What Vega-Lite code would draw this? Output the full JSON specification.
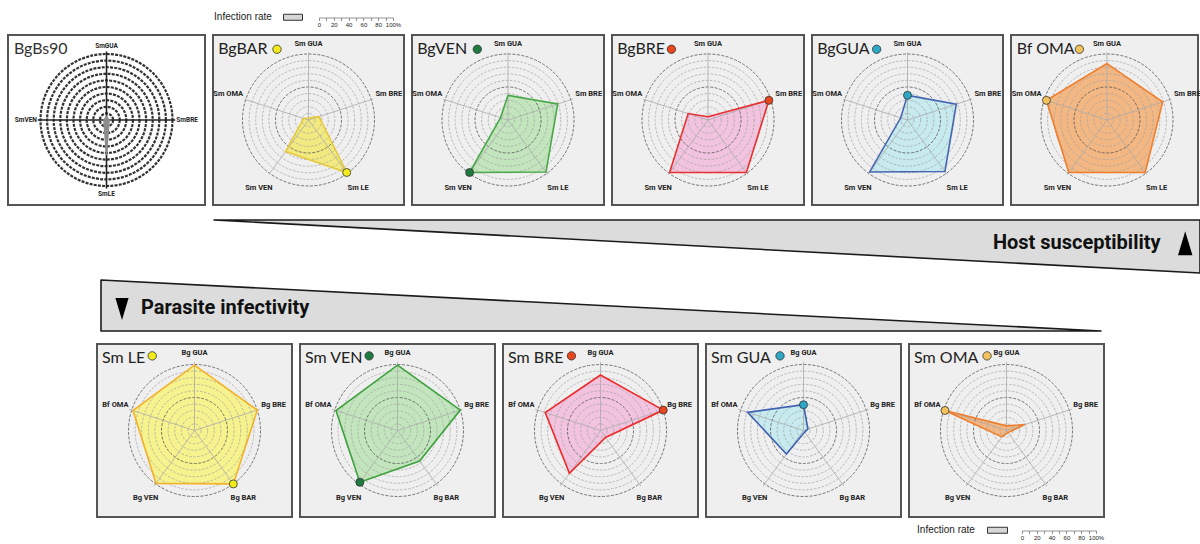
{
"$schema":"https://vega.github.io/schema/vega-lite/v6.json",
"padding":0,
"background":"white",
"config":{"view":{"stroke":null},"font":"Liberation Sans"},
"datasets":{
"rings":[{"r":10},{"r":20},{"r":30},{"r":40},{"r":50},{"r":60},{"r":70},{"r":80},{"r":90},{"r":100}],
"bs90":[{"axis":"SmGUA","k":0,"v":5},{"axis":"SmBRE","k":1,"v":4},{"axis":"SmLE","k":2,"v":53},{"axis":"SmVEN","k":3,"v":4}],
"top":[
{"panel":"BgBAR","axis":"Sm GUA","k":0,"v":3},{"panel":"BgBAR","axis":"Sm BRE","k":1,"v":17},{"panel":"BgBAR","axis":"Sm LE","k":2,"v":100},{"panel":"BgBAR","axis":"Sm VEN","k":3,"v":60},{"panel":"BgBAR","axis":"Sm OMA","k":4,"v":8},
{"panel":"BgVEN","axis":"Sm GUA","k":0,"v":38},{"panel":"BgVEN","axis":"Sm BRE","k":1,"v":80},{"panel":"BgVEN","axis":"Sm LE","k":2,"v":99},{"panel":"BgVEN","axis":"Sm VEN","k":3,"v":100},{"panel":"BgVEN","axis":"Sm OMA","k":4,"v":12},
{"panel":"BgBRE","axis":"Sm GUA","k":0,"v":5},{"panel":"BgBRE","axis":"Sm BRE","k":1,"v":98},{"panel":"BgBRE","axis":"Sm LE","k":2,"v":100},{"panel":"BgBRE","axis":"Sm VEN","k":3,"v":100},{"panel":"BgBRE","axis":"Sm OMA","k":4,"v":32},
{"panel":"BgGUA","axis":"Sm GUA","k":0,"v":38},{"panel":"BgGUA","axis":"Sm BRE","k":1,"v":79},{"panel":"BgGUA","axis":"Sm LE","k":2,"v":98},{"panel":"BgGUA","axis":"Sm VEN","k":3,"v":99},{"panel":"BgGUA","axis":"Sm OMA","k":4,"v":11},
{"panel":"Bf OMA","axis":"Sm GUA","k":0,"v":87},{"panel":"Bf OMA","axis":"Sm BRE","k":1,"v":90},{"panel":"Bf OMA","axis":"Sm LE","k":2,"v":100},{"panel":"Bf OMA","axis":"Sm VEN","k":3,"v":100},{"panel":"Bf OMA","axis":"Sm OMA","k":4,"v":98}
],
"bottom":[
{"panel":"Sm LE","axis":"Bg GUA","k":0,"v":99},{"panel":"Sm LE","axis":"Bg BRE","k":1,"v":100},{"panel":"Sm LE","axis":"Bg BAR","k":2,"v":100},{"panel":"Sm LE","axis":"Bg VEN","k":3,"v":99},{"panel":"Sm LE","axis":"Bf OMA","k":4,"v":98},
{"panel":"Sm VEN","axis":"Bg GUA","k":0,"v":99},{"panel":"Sm VEN","axis":"Bg BRE","k":1,"v":100},{"panel":"Sm VEN","axis":"Bg BAR","k":2,"v":57},{"panel":"Sm VEN","axis":"Bg VEN","k":3,"v":97},{"panel":"Sm VEN","axis":"Bf OMA","k":4,"v":98},
{"panel":"Sm BRE","axis":"Bg GUA","k":0,"v":84},{"panel":"Sm BRE","axis":"Bg BRE","k":1,"v":100},{"panel":"Sm BRE","axis":"Bg BAR","k":2,"v":13},{"panel":"Sm BRE","axis":"Bg VEN","k":3,"v":80},{"panel":"Sm BRE","axis":"Bf OMA","k":4,"v":88},
{"panel":"Sm GUA","axis":"Bg GUA","k":0,"v":39},{"panel":"Sm GUA","axis":"Bg BRE","k":1,"v":7},{"panel":"Sm GUA","axis":"Bg BAR","k":2,"v":3},{"panel":"Sm GUA","axis":"Bg VEN","k":3,"v":44},{"panel":"Sm GUA","axis":"Bf OMA","k":4,"v":89},
{"panel":"Sm OMA","axis":"Bg GUA","k":0,"v":7},{"panel":"Sm OMA","axis":"Bg BRE","k":1,"v":29},{"panel":"Sm OMA","axis":"Bg BAR","k":2,"v":4},{"panel":"Sm OMA","axis":"Bg VEN","k":3,"v":12},{"panel":"Sm OMA","axis":"Bf OMA","k":4,"v":98}
]
},
"spacing":0,
"vconcat":[
{"hconcat":[
 {"width":213,"height":34,"data":{"values":[]},"mark":"point"},
 {"width":60,"height":12,"data":{"values":[{}]},"mark":{"type":"text","text":"Infection rate","fontSize":10,"font":"Liberation Sans","fill":"#222222"}},
 {"width":9,"height":1,"data":{"values":[]},"mark":"point"},
 {"width":19,"height":6,"view":{"fill":"#d6d6d6","stroke":"#333333","strokeWidth":1},"data":{"values":[]},"mark":"point"},
 {"width":14,"height":1,"data":{"values":[]},"mark":"point"},
 {"width":74,"height":11,"data":{"values":[]},"mark":"point","encoding":{"x":{"field":"v","type":"quantitative","scale":{"domain":[0,100],"nice":false},"axis":{"values":[0,10,20,30,40,50,60,70,80,90,100],"labelExpr":"datum.value == 100 ? '100%' : (datum.value % 20 == 0 ? datum.label : '')","tickSize":3,"tickColor":"#666666","tickWidth":0.7,"domainColor":"#666666","domainWidth":0.7,"labelFontSize":6,"labelFont":"Liberation Sans","labelColor":"#222222","labelPadding":1,"labelFlush":false,"labelOverlap":false,"title":null,"grid":false}}}}
],"spacing":0,"center":true},
{"hconcat":[
 {"width":7,"height":1,"data":{"values":[]},"mark":"point"},
 {"hconcat":[
  {"width":197,"height":170,"view":{"fill":"#ffffff","stroke":"#555555","strokeWidth":2},
   "layer":[
    {"data":{"name":"rings"},"mark":{"type":"point","filled":false,"stroke":"#333333","strokeWidth":2.2,"strokeDash":[3,1.2],"opacity":1},"encoding":{"x":{"datum":0,"type":"quantitative","scale":{"domain":[-149,149],"nice":false,"zero":false},"axis":null},"y":{"datum":0,"type":"quantitative","scale":{"domain":[-129,129],"nice":false,"zero":false},"axis":null},"size":{"field":"r","type":"quantitative","scale":{"type":"pow","exponent":2,"domain":[0,100],"range":[0,17424]},"legend":null}}},
    {"data":{"name":"bs90"},
     "transform":[{"calculate":"datum.k*PI/2","as":"a"},{"calculate":"datum.v*sin(datum.a)","as":"px"},{"calculate":"datum.v*cos(datum.a)","as":"py"},{"calculate":"104*sin(datum.a)","as":"ax"},{"calculate":"104*cos(datum.a)","as":"ay"},{"calculate":"(datum.k%2==0?113:122)*sin(datum.a)","as":"lx"},{"calculate":"(datum.k%2==0?113:122)*cos(datum.a)","as":"ly"}],
     "encoding":{"x":{"field":"px","type":"quantitative","scale":{"domain":[-149,149],"nice":false,"zero":false},"axis":null},"y":{"field":"py","type":"quantitative","scale":{"domain":[-129,129],"nice":false,"zero":false},"axis":null}},
     "layer":[
      {"mark":{"type":"rule","stroke":"#222222","strokeWidth":1.6},"encoding":{"x":{"datum":0},"y":{"datum":0},"x2":{"field":"ax"},"y2":{"field":"ay"}}},
      {"mark":{"type":"line","interpolate":"linear-closed","fill":"#8c8c8c","stroke":"#8c8c8c","strokeWidth":1.5},"encoding":{"order":{"field":"k"}}},
      {"mark":{"type":"text","font":"Roboto","fontSize":6.5,"fontWeight":"bold","fill":"#222222"},"encoding":{"x":{"field":"lx","type":"quantitative"},"y":{"field":"ly","type":"quantitative"},"text":{"field":"axis"}}},
      {"transform":[{"filter":"datum.k == 0"}],"mark":{"type":"text","text":"BgBs90","align":"left","baseline":"alphabetic","font":"Lato","fontSize":16,"fill":"#333333"},"encoding":{"x":{"datum":-140},"y":{"datum":100}}}
     ]}
   ]},
  {"width":191,"height":170,"view":{"fill":"#efefef","stroke":"#555555","strokeWidth":2},
   "layer":[
    {"data":{"name":"top"},"transform":[{"filter":"datum.panel == 'BgBAR'"},{"calculate":"datum.k*2*PI/5","as":"a"},{"calculate":"datum.v*sin(datum.a)","as":"px"},{"calculate":"datum.v*cos(datum.a)","as":"py"}],
     "mark":{"type":"line","interpolate":"linear-closed","fill":"#f2ea80","strokeWidth":0},
     "encoding":{"x":{"field":"px","type":"quantitative","scale":{"domain":[-147,147],"nice":false,"zero":false},"axis":null},"y":{"field":"py","type":"quantitative","scale":{"domain":[-131,131],"nice":false,"zero":false},"axis":null},"order":{"field":"k"}}},
    {"data":{"name":"rings"},"transform":[{"filter":"datum.r % 50 != 0"}],"mark":{"type":"point","filled":false,"stroke":"#a0a0a0","strokeWidth":0.7,"strokeDash":[2.5,1.5],"opacity":1},"encoding":{"x":{"datum":0,"type":"quantitative"},"y":{"datum":0,"type":"quantitative"},"size":{"field":"r","type":"quantitative","scale":{"type":"pow","exponent":2,"domain":[0,100],"range":[0,16900]},"legend":null}}},
    {"data":{"name":"rings"},"transform":[{"filter":"datum.r % 50 == 0"}],"mark":{"type":"point","filled":false,"stroke":"#555555","strokeWidth":0.8,"strokeDash":[3,1.5],"opacity":1},"encoding":{"x":{"datum":0,"type":"quantitative"},"y":{"datum":0,"type":"quantitative"},"size":{"field":"r","type":"quantitative","scale":{"type":"pow","exponent":2,"domain":[0,100],"range":[0,16900]},"legend":null}}},
    {"data":{"name":"top"},"transform":[{"filter":"datum.panel == 'BgBAR'"},{"calculate":"datum.k*2*PI/5","as":"a"},{"calculate":"datum.v*sin(datum.a)","as":"px"},{"calculate":"datum.v*cos(datum.a)","as":"py"},{"calculate":"104*sin(datum.a)","as":"ax"},{"calculate":"104*cos(datum.a)","as":"ay"},{"calculate":"(datum.k==0?117:130)*sin(datum.a)","as":"lx"},{"calculate":"(datum.k==0?117:130)*cos(datum.a)","as":"ly"}],
     "encoding":{"x":{"field":"px","type":"quantitative"},"y":{"field":"py","type":"quantitative"}},
     "layer":[
      {"mark":{"type":"rule","stroke":"#aaaaaa","strokeWidth":0.8},"encoding":{"x":{"datum":0},"y":{"datum":0},"x2":{"field":"ax"},"y2":{"field":"ay"}}},
      {"mark":{"type":"line","interpolate":"linear-closed","stroke":"#e6c83c","strokeWidth":1.6},"encoding":{"order":{"field":"k"}}},
      {"transform":[{"filter":"datum.k == 2"}],"mark":{"type":"point","filled":true,"fill":"#f3ea1c","stroke":"#333333","strokeWidth":0.8,"size":64,"opacity":1}},
      {"mark":{"type":"text","font":"Roboto","fontSize":7.5,"fontWeight":"bold","fill":"#222222"},"encoding":{"x":{"field":"lx","type":"quantitative"},"y":{"field":"ly","type":"quantitative"},"text":{"field":"axis"}}},
      {"transform":[{"filter":"datum.k == 0"}],"mark":{"type":"text","text":"BgBAR","align":"left","baseline":"alphabetic","font":"Lato","fontSize":16,"fill":"#222222"},"encoding":{"x":{"datum":-139},"y":{"datum":101}}},
      {"transform":[{"filter":"datum.k == 0"}],"mark":{"type":"point","filled":true,"fill":"#f3ea1c","stroke":"#333333","strokeWidth":0.8,"size":70,"opacity":1},"encoding":{"x":{"datum":-48.5},"y":{"datum":109}}}
     ]}
   ]},
  {"width":192,"height":170,"view":{"fill":"#efefef","stroke":"#555555","strokeWidth":2},
   "layer":[
    {"data":{"name":"top"},"transform":[{"filter":"datum.panel == 'BgVEN'"},{"calculate":"datum.k*2*PI/5","as":"a"},{"calculate":"datum.v*sin(datum.a)","as":"px"},{"calculate":"datum.v*cos(datum.a)","as":"py"}],
     "mark":{"type":"line","interpolate":"linear-closed","fill":"#c3e5bd","strokeWidth":0},
     "encoding":{"x":{"field":"px","type":"quantitative","scale":{"domain":[-147,147],"nice":false,"zero":false},"axis":null},"y":{"field":"py","type":"quantitative","scale":{"domain":[-131,131],"nice":false,"zero":false},"axis":null},"order":{"field":"k"}}},
    {"data":{"name":"rings"},"transform":[{"filter":"datum.r % 50 != 0"}],"mark":{"type":"point","filled":false,"stroke":"#a0a0a0","strokeWidth":0.7,"strokeDash":[2.5,1.5],"opacity":1},"encoding":{"x":{"datum":0,"type":"quantitative"},"y":{"datum":0,"type":"quantitative"},"size":{"field":"r","type":"quantitative","scale":{"type":"pow","exponent":2,"domain":[0,100],"range":[0,16900]},"legend":null}}},
    {"data":{"name":"rings"},"transform":[{"filter":"datum.r % 50 == 0"}],"mark":{"type":"point","filled":false,"stroke":"#555555","strokeWidth":0.8,"strokeDash":[3,1.5],"opacity":1},"encoding":{"x":{"datum":0,"type":"quantitative"},"y":{"datum":0,"type":"quantitative"},"size":{"field":"r","type":"quantitative","scale":{"type":"pow","exponent":2,"domain":[0,100],"range":[0,16900]},"legend":null}}},
    {"data":{"name":"top"},"transform":[{"filter":"datum.panel == 'BgVEN'"},{"calculate":"datum.k*2*PI/5","as":"a"},{"calculate":"datum.v*sin(datum.a)","as":"px"},{"calculate":"datum.v*cos(datum.a)","as":"py"},{"calculate":"104*sin(datum.a)","as":"ax"},{"calculate":"104*cos(datum.a)","as":"ay"},{"calculate":"(datum.k==0?117:130)*sin(datum.a)","as":"lx"},{"calculate":"(datum.k==0?117:130)*cos(datum.a)","as":"ly"}],
     "encoding":{"x":{"field":"px","type":"quantitative"},"y":{"field":"py","type":"quantitative"}},
     "layer":[
      {"mark":{"type":"rule","stroke":"#aaaaaa","strokeWidth":0.8},"encoding":{"x":{"datum":0},"y":{"datum":0},"x2":{"field":"ax"},"y2":{"field":"ay"}}},
      {"mark":{"type":"line","interpolate":"linear-closed","stroke":"#4ba84a","strokeWidth":1.6},"encoding":{"order":{"field":"k"}}},
      {"transform":[{"filter":"datum.k == 3"}],"mark":{"type":"point","filled":true,"fill":"#1e7b40","stroke":"#333333","strokeWidth":0.8,"size":64,"opacity":1}},
      {"mark":{"type":"text","font":"Roboto","fontSize":7.5,"fontWeight":"bold","fill":"#222222"},"encoding":{"x":{"field":"lx","type":"quantitative"},"y":{"field":"ly","type":"quantitative"},"text":{"field":"axis"}}},
      {"transform":[{"filter":"datum.k == 0"}],"mark":{"type":"text","text":"BgVEN","align":"left","baseline":"alphabetic","font":"Lato","fontSize":16,"fill":"#222222"},"encoding":{"x":{"datum":-139},"y":{"datum":101}}},
      {"transform":[{"filter":"datum.k == 0"}],"mark":{"type":"point","filled":true,"fill":"#1e7b40","stroke":"#333333","strokeWidth":0.8,"size":70,"opacity":1},"encoding":{"x":{"datum":-47},"y":{"datum":109}}}
     ]}
   ]},
  {"width":192,"height":170,"view":{"fill":"#efefef","stroke":"#555555","strokeWidth":2},
   "layer":[
    {"data":{"name":"top"},"transform":[{"filter":"datum.panel == 'BgBRE'"},{"calculate":"datum.k*2*PI/5","as":"a"},{"calculate":"datum.v*sin(datum.a)","as":"px"},{"calculate":"datum.v*cos(datum.a)","as":"py"}],
     "mark":{"type":"line","interpolate":"linear-closed","fill":"#f2c3de","strokeWidth":0},
     "encoding":{"x":{"field":"px","type":"quantitative","scale":{"domain":[-147,147],"nice":false,"zero":false},"axis":null},"y":{"field":"py","type":"quantitative","scale":{"domain":[-131,131],"nice":false,"zero":false},"axis":null},"order":{"field":"k"}}},
    {"data":{"name":"rings"},"transform":[{"filter":"datum.r % 50 != 0"}],"mark":{"type":"point","filled":false,"stroke":"#a0a0a0","strokeWidth":0.7,"strokeDash":[2.5,1.5],"opacity":1},"encoding":{"x":{"datum":0,"type":"quantitative"},"y":{"datum":0,"type":"quantitative"},"size":{"field":"r","type":"quantitative","scale":{"type":"pow","exponent":2,"domain":[0,100],"range":[0,16900]},"legend":null}}},
    {"data":{"name":"rings"},"transform":[{"filter":"datum.r % 50 == 0"}],"mark":{"type":"point","filled":false,"stroke":"#555555","strokeWidth":0.8,"strokeDash":[3,1.5],"opacity":1},"encoding":{"x":{"datum":0,"type":"quantitative"},"y":{"datum":0,"type":"quantitative"},"size":{"field":"r","type":"quantitative","scale":{"type":"pow","exponent":2,"domain":[0,100],"range":[0,16900]},"legend":null}}},
    {"data":{"name":"top"},"transform":[{"filter":"datum.panel == 'BgBRE'"},{"calculate":"datum.k*2*PI/5","as":"a"},{"calculate":"datum.v*sin(datum.a)","as":"px"},{"calculate":"datum.v*cos(datum.a)","as":"py"},{"calculate":"104*sin(datum.a)","as":"ax"},{"calculate":"104*cos(datum.a)","as":"ay"},{"calculate":"(datum.k==0?117:130)*sin(datum.a)","as":"lx"},{"calculate":"(datum.k==0?117:130)*cos(datum.a)","as":"ly"}],
     "encoding":{"x":{"field":"px","type":"quantitative"},"y":{"field":"py","type":"quantitative"}},
     "layer":[
      {"mark":{"type":"rule","stroke":"#aaaaaa","strokeWidth":0.8},"encoding":{"x":{"datum":0},"y":{"datum":0},"x2":{"field":"ax"},"y2":{"field":"ay"}}},
      {"mark":{"type":"line","interpolate":"linear-closed","stroke":"#e83030","strokeWidth":1.6},"encoding":{"order":{"field":"k"}}},
      {"transform":[{"filter":"datum.k == 1"}],"mark":{"type":"point","filled":true,"fill":"#e8461e","stroke":"#333333","strokeWidth":0.8,"size":64,"opacity":1}},
      {"mark":{"type":"text","font":"Roboto","fontSize":7.5,"fontWeight":"bold","fill":"#222222"},"encoding":{"x":{"field":"lx","type":"quantitative"},"y":{"field":"ly","type":"quantitative"},"text":{"field":"axis"}}},
      {"transform":[{"filter":"datum.k == 0"}],"mark":{"type":"text","text":"BgBRE","align":"left","baseline":"alphabetic","font":"Lato","fontSize":16,"fill":"#222222"},"encoding":{"x":{"datum":-139},"y":{"datum":101}}},
      {"transform":[{"filter":"datum.k == 0"}],"mark":{"type":"point","filled":true,"fill":"#e8461e","stroke":"#333333","strokeWidth":0.8,"size":70,"opacity":1},"encoding":{"x":{"datum":-56},"y":{"datum":109}}}
     ]}
   ]},
  {"width":191,"height":170,"view":{"fill":"#efefef","stroke":"#555555","strokeWidth":2},
   "layer":[
    {"data":{"name":"top"},"transform":[{"filter":"datum.panel == 'BgGUA'"},{"calculate":"datum.k*2*PI/5","as":"a"},{"calculate":"datum.v*sin(datum.a)","as":"px"},{"calculate":"datum.v*cos(datum.a)","as":"py"}],
     "mark":{"type":"line","interpolate":"linear-closed","fill":"#c6eaee","strokeWidth":0},
     "encoding":{"x":{"field":"px","type":"quantitative","scale":{"domain":[-147,147],"nice":false,"zero":false},"axis":null},"y":{"field":"py","type":"quantitative","scale":{"domain":[-131,131],"nice":false,"zero":false},"axis":null},"order":{"field":"k"}}},
    {"data":{"name":"rings"},"transform":[{"filter":"datum.r % 50 != 0"}],"mark":{"type":"point","filled":false,"stroke":"#a0a0a0","strokeWidth":0.7,"strokeDash":[2.5,1.5],"opacity":1},"encoding":{"x":{"datum":0,"type":"quantitative"},"y":{"datum":0,"type":"quantitative"},"size":{"field":"r","type":"quantitative","scale":{"type":"pow","exponent":2,"domain":[0,100],"range":[0,16900]},"legend":null}}},
    {"data":{"name":"rings"},"transform":[{"filter":"datum.r % 50 == 0"}],"mark":{"type":"point","filled":false,"stroke":"#555555","strokeWidth":0.8,"strokeDash":[3,1.5],"opacity":1},"encoding":{"x":{"datum":0,"type":"quantitative"},"y":{"datum":0,"type":"quantitative"},"size":{"field":"r","type":"quantitative","scale":{"type":"pow","exponent":2,"domain":[0,100],"range":[0,16900]},"legend":null}}},
    {"data":{"name":"top"},"transform":[{"filter":"datum.panel == 'BgGUA'"},{"calculate":"datum.k*2*PI/5","as":"a"},{"calculate":"datum.v*sin(datum.a)","as":"px"},{"calculate":"datum.v*cos(datum.a)","as":"py"},{"calculate":"104*sin(datum.a)","as":"ax"},{"calculate":"104*cos(datum.a)","as":"ay"},{"calculate":"(datum.k==0?117:130)*sin(datum.a)","as":"lx"},{"calculate":"(datum.k==0?117:130)*cos(datum.a)","as":"ly"}],
     "encoding":{"x":{"field":"px","type":"quantitative"},"y":{"field":"py","type":"quantitative"}},
     "layer":[
      {"mark":{"type":"rule","stroke":"#aaaaaa","strokeWidth":0.8},"encoding":{"x":{"datum":0},"y":{"datum":0},"x2":{"field":"ax"},"y2":{"field":"ay"}}},
      {"mark":{"type":"line","interpolate":"linear-closed","stroke":"#4567b2","strokeWidth":1.6},"encoding":{"order":{"field":"k"}}},
      {"transform":[{"filter":"datum.k == 0"}],"mark":{"type":"point","filled":true,"fill":"#2ea7c6","stroke":"#333333","strokeWidth":0.8,"size":64,"opacity":1}},
      {"mark":{"type":"text","font":"Roboto","fontSize":7.5,"fontWeight":"bold","fill":"#222222"},"encoding":{"x":{"field":"lx","type":"quantitative"},"y":{"field":"ly","type":"quantitative"},"text":{"field":"axis"}}},
      {"transform":[{"filter":"datum.k == 0"}],"mark":{"type":"text","text":"BgGUA","align":"left","baseline":"alphabetic","font":"Lato","fontSize":16,"fill":"#222222"},"encoding":{"x":{"datum":-139},"y":{"datum":101}}},
      {"transform":[{"filter":"datum.k == 0"}],"mark":{"type":"point","filled":true,"fill":"#2ea7c6","stroke":"#333333","strokeWidth":0.8,"size":70,"opacity":1},"encoding":{"x":{"datum":-47.5},"y":{"datum":109}}}
     ]}
   ]},
  {"width":187,"height":170,"view":{"fill":"#efefef","stroke":"#555555","strokeWidth":2},
   "layer":[
    {"data":{"name":"top"},"transform":[{"filter":"datum.panel == 'Bf OMA'"},{"calculate":"datum.k*2*PI/5","as":"a"},{"calculate":"datum.v*sin(datum.a)","as":"px"},{"calculate":"datum.v*cos(datum.a)","as":"py"}],
     "mark":{"type":"line","interpolate":"linear-closed","fill":"#f3b783","strokeWidth":0},
     "encoding":{"x":{"field":"px","type":"quantitative","scale":{"domain":[-147.7,140],"nice":false,"zero":false},"axis":null},"y":{"field":"py","type":"quantitative","scale":{"domain":[-131,131],"nice":false,"zero":false},"axis":null},"order":{"field":"k"}}},
    {"data":{"name":"rings"},"transform":[{"filter":"datum.r % 50 != 0"}],"mark":{"type":"point","filled":false,"stroke":"#a0a0a0","strokeWidth":0.7,"strokeDash":[2.5,1.5],"opacity":1},"encoding":{"x":{"datum":0,"type":"quantitative"},"y":{"datum":0,"type":"quantitative"},"size":{"field":"r","type":"quantitative","scale":{"type":"pow","exponent":2,"domain":[0,100],"range":[0,16900]},"legend":null}}},
    {"data":{"name":"rings"},"transform":[{"filter":"datum.r % 50 == 0"}],"mark":{"type":"point","filled":false,"stroke":"#555555","strokeWidth":0.8,"strokeDash":[3,1.5],"opacity":1},"encoding":{"x":{"datum":0,"type":"quantitative"},"y":{"datum":0,"type":"quantitative"},"size":{"field":"r","type":"quantitative","scale":{"type":"pow","exponent":2,"domain":[0,100],"range":[0,16900]},"legend":null}}},
    {"data":{"name":"top"},"transform":[{"filter":"datum.panel == 'Bf OMA'"},{"calculate":"datum.k*2*PI/5","as":"a"},{"calculate":"datum.v*sin(datum.a)","as":"px"},{"calculate":"datum.v*cos(datum.a)","as":"py"},{"calculate":"104*sin(datum.a)","as":"ax"},{"calculate":"104*cos(datum.a)","as":"ay"},{"calculate":"(datum.k==0?117:130)*sin(datum.a)","as":"lx"},{"calculate":"(datum.k==0?117:130)*cos(datum.a)","as":"ly"}],
     "encoding":{"x":{"field":"px","type":"quantitative"},"y":{"field":"py","type":"quantitative"}},
     "layer":[
      {"mark":{"type":"rule","stroke":"#aaaaaa","strokeWidth":0.8},"encoding":{"x":{"datum":0},"y":{"datum":0},"x2":{"field":"ax"},"y2":{"field":"ay"}}},
      {"mark":{"type":"line","interpolate":"linear-closed","stroke":"#ee7f2e","strokeWidth":1.6},"encoding":{"order":{"field":"k"}}},
      {"transform":[{"filter":"datum.k == 4"}],"mark":{"type":"point","filled":true,"fill":"#f2c25e","stroke":"#333333","strokeWidth":0.8,"size":64,"opacity":1}},
      {"mark":{"type":"text","font":"Roboto","fontSize":7.5,"fontWeight":"bold","fill":"#222222"},"encoding":{"x":{"field":"lx","type":"quantitative"},"y":{"field":"ly","type":"quantitative"},"text":{"field":"axis"}}},
      {"transform":[{"filter":"datum.k == 0"}],"mark":{"type":"text","text":"Bf OMA","align":"left","baseline":"alphabetic","font":"Lato","fontSize":16,"fill":"#222222"},"encoding":{"x":{"datum":-139},"y":{"datum":101}}},
      {"transform":[{"filter":"datum.k == 0"}],"mark":{"type":"point","filled":true,"fill":"#f2c25e","stroke":"#333333","strokeWidth":0.8,"size":70,"opacity":1},"encoding":{"x":{"datum":-42.5},"y":{"datum":109}}}
     ]}
   ]}
 ],"spacing":6}
],"spacing":0},
{"width":10,"height":13,"data":{"values":[]},"mark":"point"},
{"hconcat":[
 {"width":213,"height":1,"data":{"values":[]},"mark":"point"},
 {"width":986,"height":53,"data":{"values":[{"s":0},{"s":1}]},
  "layer":[
   {"mark":{"type":"area","fill":"#dcdcdc","stroke":"#1a1a1a","strokeWidth":1.6,"strokeJoin":"round","opacity":1},"encoding":{"x":{"field":"s","type":"quantitative","scale":{"domain":[0,1],"nice":false,"zero":false},"axis":null},"y":{"field":"s","type":"quantitative","scale":{"domain":[0,1],"reverse":true,"nice":false,"zero":false},"axis":null},"y2":{"datum":0}}},
   {"transform":[{"filter":"datum.s == 1"}],"mark":{"type":"text","text":"Host susceptibility","align":"right","baseline":"middle","font":"Roboto","fontWeight":"bold","fontSize":20,"fill":"#111111"},"encoding":{"x":{"datum":0.96},"y":{"datum":0.44}}},
   {"transform":[{"filter":"datum.s == 1"}],"mark":{"type":"point","shape":"M-0.6,1L0,-1L0.6,1Z","filled":true,"fill":"#000000","strokeWidth":0,"size":576,"opacity":1},"encoding":{"x":{"datum":0.985},"y":{"datum":0.44}}}
  ]}
],"spacing":0},
{"width":10,"height":5,"data":{"values":[]},"mark":"point"},
{"hconcat":[
 {"width":100,"height":1,"data":{"values":[]},"mark":"point"},
 {"width":1000,"height":51,"data":{"values":[{"p":0},{"p":1}]},
  "layer":[
   {"mark":{"type":"area","fill":"#dcdcdc","stroke":"#1a1a1a","strokeWidth":1.6,"strokeJoin":"round","opacity":1},"encoding":{"x":{"field":"p","type":"quantitative","scale":{"domain":[0,1],"nice":false,"zero":false},"axis":null},"y":{"field":"p","type":"quantitative","scale":{"domain":[0,1],"reverse":true,"nice":false,"zero":false},"axis":null},"y2":{"datum":1}}},
   {"transform":[{"filter":"datum.p == 0"}],"mark":{"type":"text","text":"Parasite infectivity","align":"left","baseline":"middle","font":"Roboto","fontWeight":"bold","fontSize":20,"fill":"#111111"},"encoding":{"x":{"datum":0.04},"y":{"datum":0.55}}},
   {"transform":[{"filter":"datum.p == 0"}],"mark":{"type":"point","shape":"M-0.6,-1L0.6,-1L0,1Z","filled":true,"fill":"#000000","strokeWidth":0,"size":484,"opacity":1},"encoding":{"x":{"datum":0.021},"y":{"datum":0.57}}}
  ]}
],"spacing":0},
{"width":10,"height":11,"data":{"values":[]},"mark":"point"},
{"hconcat":[
 {"width":96,"height":1,"data":{"values":[]},"mark":"point"},
 {"hconcat":[
  {"width":195,"height":173,"view":{"fill":"#efefef","stroke":"#555555","strokeWidth":2},
   "layer":[
    {"data":{"name":"bottom"},"transform":[{"filter":"datum.panel == 'Sm LE'"},{"calculate":"datum.k*2*PI/5","as":"a"},{"calculate":"datum.v*sin(datum.a)","as":"px"},{"calculate":"datum.v*cos(datum.a)","as":"py"}],
     "mark":{"type":"line","interpolate":"linear-closed","fill":"#f6f38e","strokeWidth":0},
     "encoding":{"x":{"field":"px","type":"quantitative","scale":{"domain":[-147.7,147.7],"nice":false,"zero":false},"axis":null},"y":{"field":"py","type":"quantitative","scale":{"domain":[-131,131],"nice":false,"zero":false},"axis":null},"order":{"field":"k"}}},
    {"data":{"name":"rings"},"transform":[{"filter":"datum.r % 50 != 0"}],"mark":{"type":"point","filled":false,"stroke":"#a0a0a0","strokeWidth":0.7,"strokeDash":[2.5,1.5],"opacity":1},"encoding":{"x":{"datum":0,"type":"quantitative"},"y":{"datum":0,"type":"quantitative"},"size":{"field":"r","type":"quantitative","scale":{"type":"pow","exponent":2,"domain":[0,100],"range":[0,17424]},"legend":null}}},
    {"data":{"name":"rings"},"transform":[{"filter":"datum.r % 50 == 0"}],"mark":{"type":"point","filled":false,"stroke":"#555555","strokeWidth":0.8,"strokeDash":[3,1.5],"opacity":1},"encoding":{"x":{"datum":0,"type":"quantitative"},"y":{"datum":0,"type":"quantitative"},"size":{"field":"r","type":"quantitative","scale":{"type":"pow","exponent":2,"domain":[0,100],"range":[0,17424]},"legend":null}}},
    {"data":{"name":"bottom"},"transform":[{"filter":"datum.panel == 'Sm LE'"},{"calculate":"datum.k*2*PI/5","as":"a"},{"calculate":"datum.v*sin(datum.a)","as":"px"},{"calculate":"datum.v*cos(datum.a)","as":"py"},{"calculate":"104*sin(datum.a)","as":"ax"},{"calculate":"104*cos(datum.a)","as":"ay"},{"calculate":"(datum.k==0?118:126)*sin(datum.a)","as":"lx"},{"calculate":"(datum.k==0?118:126)*cos(datum.a)","as":"ly"}],
     "encoding":{"x":{"field":"px","type":"quantitative"},"y":{"field":"py","type":"quantitative"}},
     "layer":[
      {"mark":{"type":"rule","stroke":"#aaaaaa","strokeWidth":0.8},"encoding":{"x":{"datum":0},"y":{"datum":0},"x2":{"field":"ax"},"y2":{"field":"ay"}}},
      {"mark":{"type":"line","interpolate":"linear-closed","stroke":"#f3b227","strokeWidth":1.6},"encoding":{"order":{"field":"k"}}},
      {"transform":[{"filter":"datum.k == 2"}],"mark":{"type":"point","filled":true,"fill":"#f3ea1c","stroke":"#333333","strokeWidth":0.8,"size":64,"opacity":1}},
      {"mark":{"type":"text","font":"Roboto","fontSize":7.5,"fontWeight":"bold","fill":"#222222"},"encoding":{"x":{"field":"lx","type":"quantitative"},"y":{"field":"ly","type":"quantitative"},"text":{"field":"axis"}}},
      {"transform":[{"filter":"datum.k == 0"}],"mark":{"type":"text","text":"Sm LE","align":"left","baseline":"alphabetic","font":"Lato","fontSize":16,"fill":"#222222"},"encoding":{"x":{"datum":-140},"y":{"datum":102}}},
      {"transform":[{"filter":"datum.k == 0"}],"mark":{"type":"point","filled":true,"fill":"#f3ea1c","stroke":"#333333","strokeWidth":0.8,"size":70,"opacity":1},"encoding":{"x":{"datum":-64},"y":{"datum":113}}}
     ]}
   ]},
  {"width":195,"height":173,"view":{"fill":"#efefef","stroke":"#555555","strokeWidth":2},
   "layer":[
    {"data":{"name":"bottom"},"transform":[{"filter":"datum.panel == 'Sm VEN'"},{"calculate":"datum.k*2*PI/5","as":"a"},{"calculate":"datum.v*sin(datum.a)","as":"px"},{"calculate":"datum.v*cos(datum.a)","as":"py"}],
     "mark":{"type":"line","interpolate":"linear-closed","fill":"#c3e5bd","strokeWidth":0},
     "encoding":{"x":{"field":"px","type":"quantitative","scale":{"domain":[-147.7,147.7],"nice":false,"zero":false},"axis":null},"y":{"field":"py","type":"quantitative","scale":{"domain":[-131,131],"nice":false,"zero":false},"axis":null},"order":{"field":"k"}}},
    {"data":{"name":"rings"},"transform":[{"filter":"datum.r % 50 != 0"}],"mark":{"type":"point","filled":false,"stroke":"#a0a0a0","strokeWidth":0.7,"strokeDash":[2.5,1.5],"opacity":1},"encoding":{"x":{"datum":0,"type":"quantitative"},"y":{"datum":0,"type":"quantitative"},"size":{"field":"r","type":"quantitative","scale":{"type":"pow","exponent":2,"domain":[0,100],"range":[0,17424]},"legend":null}}},
    {"data":{"name":"rings"},"transform":[{"filter":"datum.r % 50 == 0"}],"mark":{"type":"point","filled":false,"stroke":"#555555","strokeWidth":0.8,"strokeDash":[3,1.5],"opacity":1},"encoding":{"x":{"datum":0,"type":"quantitative"},"y":{"datum":0,"type":"quantitative"},"size":{"field":"r","type":"quantitative","scale":{"type":"pow","exponent":2,"domain":[0,100],"range":[0,17424]},"legend":null}}},
    {"data":{"name":"bottom"},"transform":[{"filter":"datum.panel == 'Sm VEN'"},{"calculate":"datum.k*2*PI/5","as":"a"},{"calculate":"datum.v*sin(datum.a)","as":"px"},{"calculate":"datum.v*cos(datum.a)","as":"py"},{"calculate":"104*sin(datum.a)","as":"ax"},{"calculate":"104*cos(datum.a)","as":"ay"},{"calculate":"(datum.k==0?118:126)*sin(datum.a)","as":"lx"},{"calculate":"(datum.k==0?118:126)*cos(datum.a)","as":"ly"}],
     "encoding":{"x":{"field":"px","type":"quantitative"},"y":{"field":"py","type":"quantitative"}},
     "layer":[
      {"mark":{"type":"rule","stroke":"#aaaaaa","strokeWidth":0.8},"encoding":{"x":{"datum":0},"y":{"datum":0},"x2":{"field":"ax"},"y2":{"field":"ay"}}},
      {"mark":{"type":"line","interpolate":"linear-closed","stroke":"#3ea23e","strokeWidth":1.6},"encoding":{"order":{"field":"k"}}},
      {"transform":[{"filter":"datum.k == 3"}],"mark":{"type":"point","filled":true,"fill":"#1e7b40","stroke":"#333333","strokeWidth":0.8,"size":64,"opacity":1}},
      {"mark":{"type":"text","font":"Roboto","fontSize":7.5,"fontWeight":"bold","fill":"#222222"},"encoding":{"x":{"field":"lx","type":"quantitative"},"y":{"field":"ly","type":"quantitative"},"text":{"field":"axis"}}},
      {"transform":[{"filter":"datum.k == 0"}],"mark":{"type":"text","text":"Sm VEN","align":"left","baseline":"alphabetic","font":"Lato","fontSize":16,"fill":"#222222"},"encoding":{"x":{"datum":-140},"y":{"datum":102}}},
      {"transform":[{"filter":"datum.k == 0"}],"mark":{"type":"point","filled":true,"fill":"#1e7b40","stroke":"#333333","strokeWidth":0.8,"size":70,"opacity":1},"encoding":{"x":{"datum":-43},"y":{"datum":113}}}
     ]}
   ]},
  {"width":195,"height":173,"view":{"fill":"#efefef","stroke":"#555555","strokeWidth":2},
   "layer":[
    {"data":{"name":"bottom"},"transform":[{"filter":"datum.panel == 'Sm BRE'"},{"calculate":"datum.k*2*PI/5","as":"a"},{"calculate":"datum.v*sin(datum.a)","as":"px"},{"calculate":"datum.v*cos(datum.a)","as":"py"}],
     "mark":{"type":"line","interpolate":"linear-closed","fill":"#f2c3de","strokeWidth":0},
     "encoding":{"x":{"field":"px","type":"quantitative","scale":{"domain":[-147.7,147.7],"nice":false,"zero":false},"axis":null},"y":{"field":"py","type":"quantitative","scale":{"domain":[-131,131],"nice":false,"zero":false},"axis":null},"order":{"field":"k"}}},
    {"data":{"name":"rings"},"transform":[{"filter":"datum.r % 50 != 0"}],"mark":{"type":"point","filled":false,"stroke":"#a0a0a0","strokeWidth":0.7,"strokeDash":[2.5,1.5],"opacity":1},"encoding":{"x":{"datum":0,"type":"quantitative"},"y":{"datum":0,"type":"quantitative"},"size":{"field":"r","type":"quantitative","scale":{"type":"pow","exponent":2,"domain":[0,100],"range":[0,17424]},"legend":null}}},
    {"data":{"name":"rings"},"transform":[{"filter":"datum.r % 50 == 0"}],"mark":{"type":"point","filled":false,"stroke":"#555555","strokeWidth":0.8,"strokeDash":[3,1.5],"opacity":1},"encoding":{"x":{"datum":0,"type":"quantitative"},"y":{"datum":0,"type":"quantitative"},"size":{"field":"r","type":"quantitative","scale":{"type":"pow","exponent":2,"domain":[0,100],"range":[0,17424]},"legend":null}}},
    {"data":{"name":"bottom"},"transform":[{"filter":"datum.panel == 'Sm BRE'"},{"calculate":"datum.k*2*PI/5","as":"a"},{"calculate":"datum.v*sin(datum.a)","as":"px"},{"calculate":"datum.v*cos(datum.a)","as":"py"},{"calculate":"104*sin(datum.a)","as":"ax"},{"calculate":"104*cos(datum.a)","as":"ay"},{"calculate":"(datum.k==0?118:126)*sin(datum.a)","as":"lx"},{"calculate":"(datum.k==0?118:126)*cos(datum.a)","as":"ly"}],
     "encoding":{"x":{"field":"px","type":"quantitative"},"y":{"field":"py","type":"quantitative"}},
     "layer":[
      {"mark":{"type":"rule","stroke":"#aaaaaa","strokeWidth":0.8},"encoding":{"x":{"datum":0},"y":{"datum":0},"x2":{"field":"ax"},"y2":{"field":"ay"}}},
      {"mark":{"type":"line","interpolate":"linear-closed","stroke":"#ee2b2b","strokeWidth":1.6},"encoding":{"order":{"field":"k"}}},
      {"transform":[{"filter":"datum.k == 1"}],"mark":{"type":"point","filled":true,"fill":"#e8461e","stroke":"#333333","strokeWidth":0.8,"size":64,"opacity":1}},
      {"mark":{"type":"text","font":"Roboto","fontSize":7.5,"fontWeight":"bold","fill":"#222222"},"encoding":{"x":{"field":"lx","type":"quantitative"},"y":{"field":"ly","type":"quantitative"},"text":{"field":"axis"}}},
      {"transform":[{"filter":"datum.k == 0"}],"mark":{"type":"text","text":"Sm BRE","align":"left","baseline":"alphabetic","font":"Lato","fontSize":16,"fill":"#222222"},"encoding":{"x":{"datum":-140},"y":{"datum":102}}},
      {"transform":[{"filter":"datum.k == 0"}],"mark":{"type":"point","filled":true,"fill":"#e8461e","stroke":"#333333","strokeWidth":0.8,"size":70,"opacity":1},"encoding":{"x":{"datum":-44},"y":{"datum":113}}}
     ]}
   ]},
  {"width":195,"height":173,"view":{"fill":"#efefef","stroke":"#555555","strokeWidth":2},
   "layer":[
    {"data":{"name":"bottom"},"transform":[{"filter":"datum.panel == 'Sm GUA'"},{"calculate":"datum.k*2*PI/5","as":"a"},{"calculate":"datum.v*sin(datum.a)","as":"px"},{"calculate":"datum.v*cos(datum.a)","as":"py"}],
     "mark":{"type":"line","interpolate":"linear-closed","fill":"#c6eaee","strokeWidth":0},
     "encoding":{"x":{"field":"px","type":"quantitative","scale":{"domain":[-147.7,147.7],"nice":false,"zero":false},"axis":null},"y":{"field":"py","type":"quantitative","scale":{"domain":[-131,131],"nice":false,"zero":false},"axis":null},"order":{"field":"k"}}},
    {"data":{"name":"rings"},"transform":[{"filter":"datum.r % 50 != 0"}],"mark":{"type":"point","filled":false,"stroke":"#a0a0a0","strokeWidth":0.7,"strokeDash":[2.5,1.5],"opacity":1},"encoding":{"x":{"datum":0,"type":"quantitative"},"y":{"datum":0,"type":"quantitative"},"size":{"field":"r","type":"quantitative","scale":{"type":"pow","exponent":2,"domain":[0,100],"range":[0,17424]},"legend":null}}},
    {"data":{"name":"rings"},"transform":[{"filter":"datum.r % 50 == 0"}],"mark":{"type":"point","filled":false,"stroke":"#555555","strokeWidth":0.8,"strokeDash":[3,1.5],"opacity":1},"encoding":{"x":{"datum":0,"type":"quantitative"},"y":{"datum":0,"type":"quantitative"},"size":{"field":"r","type":"quantitative","scale":{"type":"pow","exponent":2,"domain":[0,100],"range":[0,17424]},"legend":null}}},
    {"data":{"name":"bottom"},"transform":[{"filter":"datum.panel == 'Sm GUA'"},{"calculate":"datum.k*2*PI/5","as":"a"},{"calculate":"datum.v*sin(datum.a)","as":"px"},{"calculate":"datum.v*cos(datum.a)","as":"py"},{"calculate":"104*sin(datum.a)","as":"ax"},{"calculate":"104*cos(datum.a)","as":"ay"},{"calculate":"(datum.k==0?118:126)*sin(datum.a)","as":"lx"},{"calculate":"(datum.k==0?118:126)*cos(datum.a)","as":"ly"}],
     "encoding":{"x":{"field":"px","type":"quantitative"},"y":{"field":"py","type":"quantitative"}},
     "layer":[
      {"mark":{"type":"rule","stroke":"#aaaaaa","strokeWidth":0.8},"encoding":{"x":{"datum":0},"y":{"datum":0},"x2":{"field":"ax"},"y2":{"field":"ay"}}},
      {"mark":{"type":"line","interpolate":"linear-closed","stroke":"#3f62b0","strokeWidth":1.6},"encoding":{"order":{"field":"k"}}},
      {"transform":[{"filter":"datum.k == 0"}],"mark":{"type":"point","filled":true,"fill":"#2ea7c6","stroke":"#333333","strokeWidth":0.8,"size":64,"opacity":1}},
      {"mark":{"type":"text","font":"Roboto","fontSize":7.5,"fontWeight":"bold","fill":"#222222"},"encoding":{"x":{"field":"lx","type":"quantitative"},"y":{"field":"ly","type":"quantitative"},"text":{"field":"axis"}}},
      {"transform":[{"filter":"datum.k == 0"}],"mark":{"type":"text","text":"Sm GUA","align":"left","baseline":"alphabetic","font":"Lato","fontSize":16,"fill":"#222222"},"encoding":{"x":{"datum":-140},"y":{"datum":102}}},
      {"transform":[{"filter":"datum.k == 0"}],"mark":{"type":"point","filled":true,"fill":"#2ea7c6","stroke":"#333333","strokeWidth":0.8,"size":70,"opacity":1},"encoding":{"x":{"datum":-35.6},"y":{"datum":113}}}
     ]}
   ]},
  {"width":195,"height":173,"view":{"fill":"#efefef","stroke":"#555555","strokeWidth":2},
   "layer":[
    {"data":{"name":"bottom"},"transform":[{"filter":"datum.panel == 'Sm OMA'"},{"calculate":"datum.k*2*PI/5","as":"a"},{"calculate":"datum.v*sin(datum.a)","as":"px"},{"calculate":"datum.v*cos(datum.a)","as":"py"}],
     "mark":{"type":"line","interpolate":"linear-closed","fill":"#f3b783","strokeWidth":0},
     "encoding":{"x":{"field":"px","type":"quantitative","scale":{"domain":[-147.7,147.7],"nice":false,"zero":false},"axis":null},"y":{"field":"py","type":"quantitative","scale":{"domain":[-131,131],"nice":false,"zero":false},"axis":null},"order":{"field":"k"}}},
    {"data":{"name":"rings"},"transform":[{"filter":"datum.r % 50 != 0"}],"mark":{"type":"point","filled":false,"stroke":"#a0a0a0","strokeWidth":0.7,"strokeDash":[2.5,1.5],"opacity":1},"encoding":{"x":{"datum":0,"type":"quantitative"},"y":{"datum":0,"type":"quantitative"},"size":{"field":"r","type":"quantitative","scale":{"type":"pow","exponent":2,"domain":[0,100],"range":[0,17424]},"legend":null}}},
    {"data":{"name":"rings"},"transform":[{"filter":"datum.r % 50 == 0"}],"mark":{"type":"point","filled":false,"stroke":"#555555","strokeWidth":0.8,"strokeDash":[3,1.5],"opacity":1},"encoding":{"x":{"datum":0,"type":"quantitative"},"y":{"datum":0,"type":"quantitative"},"size":{"field":"r","type":"quantitative","scale":{"type":"pow","exponent":2,"domain":[0,100],"range":[0,17424]},"legend":null}}},
    {"data":{"name":"bottom"},"transform":[{"filter":"datum.panel == 'Sm OMA'"},{"calculate":"datum.k*2*PI/5","as":"a"},{"calculate":"datum.v*sin(datum.a)","as":"px"},{"calculate":"datum.v*cos(datum.a)","as":"py"},{"calculate":"104*sin(datum.a)","as":"ax"},{"calculate":"104*cos(datum.a)","as":"ay"},{"calculate":"(datum.k==0?118:126)*sin(datum.a)","as":"lx"},{"calculate":"(datum.k==0?118:126)*cos(datum.a)","as":"ly"}],
     "encoding":{"x":{"field":"px","type":"quantitative"},"y":{"field":"py","type":"quantitative"}},
     "layer":[
      {"mark":{"type":"rule","stroke":"#aaaaaa","strokeWidth":0.8},"encoding":{"x":{"datum":0},"y":{"datum":0},"x2":{"field":"ax"},"y2":{"field":"ay"}}},
      {"mark":{"type":"line","interpolate":"linear-closed","stroke":"#ee7f2e","strokeWidth":1.6},"encoding":{"order":{"field":"k"}}},
      {"transform":[{"filter":"datum.k == 4"}],"mark":{"type":"point","filled":true,"fill":"#f2c25e","stroke":"#333333","strokeWidth":0.8,"size":64,"opacity":1}},
      {"mark":{"type":"text","font":"Roboto","fontSize":7.5,"fontWeight":"bold","fill":"#222222"},"encoding":{"x":{"field":"lx","type":"quantitative"},"y":{"field":"ly","type":"quantitative"},"text":{"field":"axis"}}},
      {"transform":[{"filter":"datum.k == 0"}],"mark":{"type":"text","text":"Sm OMA","align":"left","baseline":"alphabetic","font":"Lato","fontSize":16,"fill":"#222222"},"encoding":{"x":{"datum":-140},"y":{"datum":102}}},
      {"transform":[{"filter":"datum.k == 0"}],"mark":{"type":"point","filled":true,"fill":"#f2c25e","stroke":"#333333","strokeWidth":0.8,"size":70,"opacity":1},"encoding":{"x":{"datum":-29.5},"y":{"datum":113}}}
     ]}
   ]}
 ],"spacing":6}
],"spacing":0},
{"hconcat":[
 {"width":916,"height":24,"data":{"values":[]},"mark":"point"},
 {"width":60,"height":12,"data":{"values":[{}]},"mark":{"type":"text","text":"Infection rate","fontSize":10,"font":"Liberation Sans","fill":"#222222"}},
 {"width":10,"height":1,"data":{"values":[]},"mark":"point"},
 {"width":20,"height":6,"view":{"fill":"#d6d6d6","stroke":"#333333","strokeWidth":1},"data":{"values":[]},"mark":"point"},
 {"width":12,"height":1,"data":{"values":[]},"mark":"point"},
 {"width":74,"height":11,"data":{"values":[]},"mark":"point","encoding":{"x":{"field":"v","type":"quantitative","scale":{"domain":[0,100],"nice":false},"axis":{"values":[0,10,20,30,40,50,60,70,80,90,100],"labelExpr":"datum.value == 100 ? '100%' : (datum.value % 20 == 0 ? datum.label : '')","tickSize":3,"tickColor":"#666666","tickWidth":0.7,"domainColor":"#666666","domainWidth":0.7,"labelFontSize":6,"labelFont":"Liberation Sans","labelColor":"#222222","labelPadding":1,"labelFlush":false,"labelOverlap":false,"title":null,"grid":false}}}}
],"spacing":0,"center":true}
]
}
